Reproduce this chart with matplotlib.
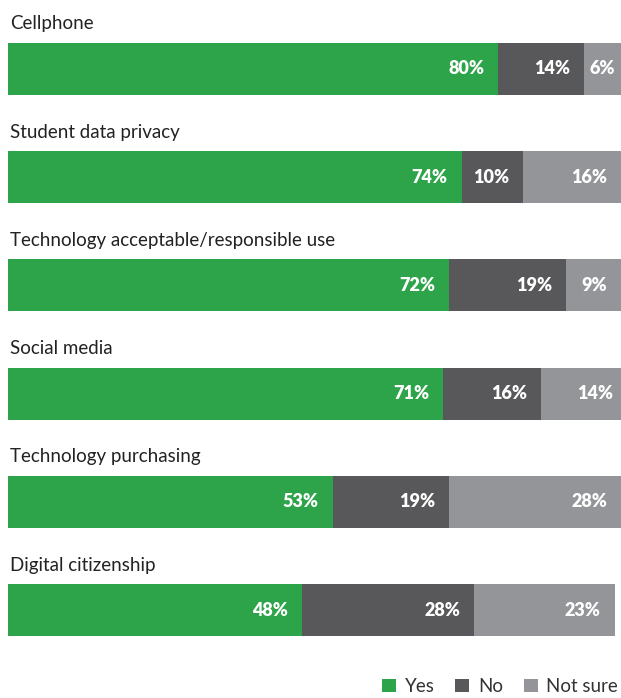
import matplotlib.pyplot as plt
from matplotlib.patches import Patch

# survey data
categories = ['Cellphone', 'Student data privacy', 'Technology acceptable/responsible use',
              'Social media', 'Technology purchasing', 'Digital citizenship']
yes = [80, 74, 72, 71, 53, 48]
no = [14, 10, 19, 16, 19, 28]
not_sure = [6, 16, 9, 14, 28, 23]
series_names = ['Yes', 'No', 'Not sure']
colors = ['#2ea44a', '#58585a', '#939598']

plt.rcParams['font.family'] = ['Lato', 'DejaVu Sans']

fig = plt.figure(figsize=(6.21, 6.98), dpi=100)
# axes in pixel-like units vertically, percent horizontally
ax = fig.add_axes([8 / 621, 0, 1 - 8 / 621, 1])
ax.set_xlim(0, 100)
ax.set_ylim(698, 0)
ax.axis('off')

px = 100 / 613  # percent per pixel
for i, cat in enumerate(categories):
    yc = 69 + i * 108.2
    ax.text(0.3, yc - 45, cat, fontsize=13.5, color='#222222', va='center', ha='left')
    left = 0
    for vals, col in zip([yes, no, not_sure], colors):
        v = vals[i]
        ax.barh(yc, v, left=left, height=52, color=col, edgecolor='none')
        end = left + v
        if v < 8:
            ax.text(left + v / 2, yc, f'{v}%', color='white', fontsize=13, fontweight='heavy',
                    ha='center', va='center')
        else:
            ax.text(end - 14 * px, yc, f'{v}%', color='white', fontsize=13, fontweight='heavy',
                    ha='right', va='center')
        left = end

handles = [Patch(facecolor=c, edgecolor='none') for c in colors]
fig.legend(handles, series_names, loc='lower right', bbox_to_anchor=(1.022, -0.02), ncol=3,
           frameon=False, fontsize=13.5, handlelength=0.75, handleheight=0.75,
           handletextpad=0.45, columnspacing=1.1, labelcolor='#333333')

fig.savefig('out.png', dpi=100)
